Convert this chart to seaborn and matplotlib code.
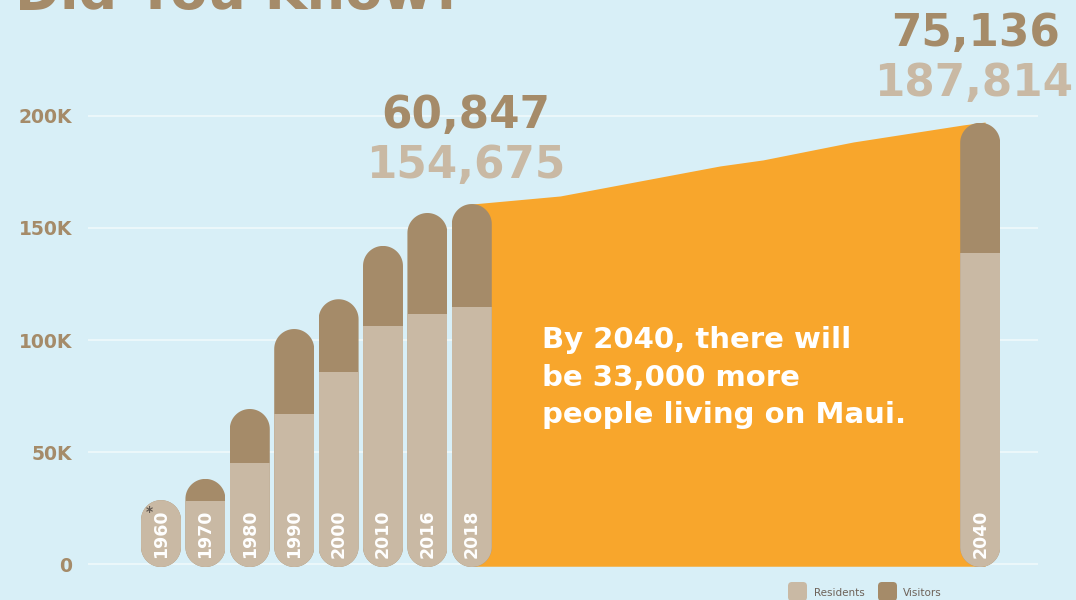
import numpy as np
import pandas as pd
import matplotlib
matplotlib.use("Agg")
import matplotlib.pyplot as plt
import seaborn as sns
from matplotlib.patches import Polygon, FancyBboxPatch
from matplotlib.transforms import IdentityTransform

# ---------------- data ----------------
years = ["1960", "1970", "1980", "1990", "2000", "2010", "2016", "2018", "2040"]
positions = [0, 1, 2, 3, 4, 5, 6, 7, 18.45]
residents = [28500, 28100, 45200, 67100, 85900, 106400, 111700, 114700, 139000]
totals = [28500, 38000, 69200, 104900, 118200, 142000, 156700, 160700, 197000]

area_pos = [7.0, 8.99, 12.59, 13.56, 15.59, 18.06, 18.56]
area_vals = [160700, 164300, 177700, 180400, 188400, 196000, 197300]

tick_values = [0, 50000, 100000, 150000, 200000]
tick_labels = ["0", "50K", "100K", "150K", "200K"]

title = "Did You Know?"
visitors_2018_label = "60,847"
residents_2018_label = "154,675"
visitors_2040_label = "75,136"
residents_2040_label = "187,814"
message = ["By 2040, there will", "be 33,000 more", "people living on Maui."]
legend_labels = ["Residents", "Visitors"]

# ---------------- style ----------------
BG = "#d8eff7"
RES = "#c9b9a4"
VIS = "#a58b69"
ORANGE = "#f8a62c"
GRID = "#eef8fb"
LEGTXT = "#6e6259"

sns.set_theme(style="white")
plt.rcParams['font.family'] = ['DejaVu Sans']

W, H = 1076, 600
fig = plt.figure(figsize=(W / 100, H / 100), dpi=100, facecolor=BG)
ax_left, ax_right = 88, 1038
ax = fig.add_axes([ax_left / W, 0, (ax_right - ax_left) / W, 1])
ax.set_facecolor(BG)

px_per_unit_y = 2.24 / 1000.0
px_per_unit_x = 44.4
y0_px = 564  # pixel row of value 0
x0_px = 161  # pixel column of position 0
ylo = -(H - y0_px) / px_per_unit_y
yhi = y0_px / px_per_unit_y
xlo = (ax_left - x0_px) / px_per_unit_x
xhi = (ax_right - x0_px) / px_per_unit_x

# orange projection area
ax.fill_between(area_pos, area_vals, -1000, color=ORANGE, lw=0, zorder=1)

df = pd.DataFrame({"pos": positions, "total": totals, "res": residents})

n0 = len(ax.patches)
sns.barplot(data=df, x="pos", y="total", native_scale=True, color=VIS,
            saturation=1, width=0.9, linewidth=0, ax=ax, zorder=2)
tot_patches = ax.patches[n0:]
n1 = len(ax.patches)
sns.barplot(data=df, x="pos", y="res", native_scale=True, color=RES,
            saturation=1, width=0.9, linewidth=0, ax=ax, zorder=3)
res_patches = ax.patches[n1:]

ax.set_xlim(xlo, xhi)
ax.set_ylim(ylo, yhi)
ax.set_xlabel("")
ax.set_ylabel("")
ax.set_xticks([])
ax.set_yticks(tick_values, labels=tick_labels, fontweight="bold")
ax.tick_params(axis="y", length=0, pad=11.5, labelcolor=VIS, labelsize=13.5)
ax.yaxis.grid(True, color=GRID, lw=1.3, zorder=0)
ax.xaxis.grid(False)
ax.set_axisbelow(True)
for s in ax.spines.values():
    s.set_visible(False)

# pill shaped clipping for every stacked bar
pill_bottom = -1340
theta = np.linspace(0, np.pi, 40)
for tp, rp, tot in zip(tot_patches, res_patches, totals):
    x0 = tp.get_x()
    w = tp.get_width()
    rx = w / 2
    cx = x0 + rx
    r_y = rx * px_per_unit_x / px_per_unit_y
    top_c = tot - r_y
    bot_c = pill_bottom + r_y
    top = np.column_stack([cx + rx * np.cos(theta), top_c + r_y * np.sin(theta)])
    bot = np.column_stack([cx - rx * np.cos(theta), bot_c - r_y * np.sin(theta)])
    verts = np.vstack([top, bot])
    pill = Polygon(verts, closed=True, transform=ax.transData)
    for p in (tp, rp):
        t = p.get_y() + p.get_height()
        p.set_y(pill_bottom)
        p.set_height(t - pill_bottom)
        p.set_clip_path(pill)

# year labels inside bars
for pos, yr in zip(positions, years):
    ax.text(pos, 2700, yr, rotation=90, ha="center", va="bottom", color="white",
            fontsize=12.5, fontweight="bold", zorder=5)
ax.text(positions[0] - 0.27, 21500, "*", ha="center", va="baseline",
        color="#5f564f", fontsize=10, fontweight="bold", zorder=5)

# big numbers
ax.text(positions[7] - 0.13, 194600, visitors_2018_label, ha="center", va="baseline",
        fontsize=31.5, color=VIS, fontweight="bold", zorder=6)
ax.text(positions[7] - 0.14, 172300, residents_2018_label, ha="center", va="baseline",
        fontsize=31.5, color=RES, fontweight="bold", zorder=6)
ax.text(positions[8] - 0.1, 231250, visitors_2040_label, ha="center", va="baseline",
        fontsize=31.5, color=VIS, fontweight="bold", zorder=6)
ax.text(positions[8] - 0.15, 208900, residents_2040_label, ha="center", va="baseline",
        fontsize=31.5, color=RES, fontweight="bold", zorder=6)

# message in the orange area
for line, yb in zip(message, [96400, 79500, 62900]):
    ax.text(8.57, yb, line, ha="left", va="baseline", fontsize=21,
            color="white", fontweight="bold", zorder=6)

# title (cut at the top edge)
fig.text(15 / W, 1 - 9 / H, title, fontsize=39, fontweight="bold", color=VIS,
         ha="left", va="baseline")

# legend
for (bx, col), lab, tx in zip([(788, RES), (878, VIS)], legend_labels, [814, 903]):
    box = FancyBboxPatch((bx, -1), 19, 19, boxstyle="round,pad=0,rounding_size=4",
                         facecolor=col, edgecolor="none", transform=IdentityTransform())
    fig.add_artist(box)
    fig.text(tx / W, 7.3 / H, lab, fontsize=7.5, color=LEGTXT, ha="left", va="center")

fig.savefig("out.png", dpi=100, facecolor=BG)
